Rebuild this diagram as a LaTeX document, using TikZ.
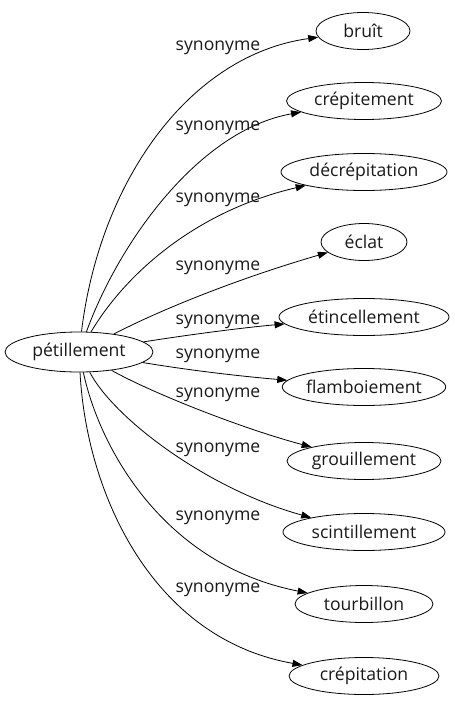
\documentclass[tikz,border=0pt]{standalone}
\usepackage{fontspec}
\setmainfont{Open Sans}
\usetikzlibrary{shapes.geometric,arrows.meta}
\begin{document}
\begin{tikzpicture}[x=1pt,y=-1pt,
  word/.style={draw,ellipse,inner sep=0pt,minimum height=37pt,line width=0.8pt,font=\fontsize{17.6}{20}\selectfont,text=black!90},
  lbl/.style={inner sep=0pt,font=\fontsize{17.6}{20}\selectfont,text=black!90},
  syn/.style={draw,line width=0.8pt,-{Triangle[length=10pt,width=7pt]}}]
\useasboundingbox (0,0) rectangle (455,707);
\node[word,minimum width=148pt,minimum height=40pt] (p) at (79,352) {pétillement};
\node[word,minimum width=94pt] (t1) at (363,31) {bruît};
\node[word,minimum width=155pt] (t2) at (364,101) {crépitement};
\node[word,minimum width=166pt] (t3) at (364,172) {décrépitation};
\node[word,minimum width=86pt] (t4) at (364,242) {éclat};
\node[word,minimum width=170pt] (t5) at (364,317) {étincellement};
\node[word,minimum width=160pt] (t6) at (364,387) {flamboiement};
\node[word,minimum width=154pt] (t7) at (364,461) {grouillement};
\node[word,minimum width=162pt] (t8) at (364,532) {scintillement};
\node[word,minimum width=138pt] (t9) at (364,604) {tourbillon};
\node[word,minimum width=150pt] (t10) at (364,676) {crépitation};
\draw[syn] (p) .. controls (100,180) and (190,55) .. (t1);
\draw[syn] (p) .. controls (120,240) and (200,130) .. (t2);
\draw[syn] (p) .. controls (128,270) and (200,210) .. (t3);
\draw[syn] (p) .. controls (170,305) and (250,275) .. (t4);
\draw[syn] (p) .. controls (200,333) and (250,327) .. (t5);
\draw[syn] (p) .. controls (200,372) and (250,377) .. (t6);
\draw[syn] (p) .. controls (150,392) and (240,428) .. (t7);
\draw[syn] (p) .. controls (115,420) and (210,490) .. (t8);
\draw[syn] (p) .. controls (100,450) and (165,565) .. (t9);
\draw[syn] (p) .. controls (86,490) and (150,638) .. (t10);
\node[lbl] (l1) at (218,48) {synonyme};
\node[lbl] (l2) at (218,128) {synonyme};
\node[lbl] (l3) at (218,200) {synonyme};
\node[lbl] (l4) at (218,268) {synonyme};
\node[lbl] (l5) at (218,322) {synonyme};
\node[lbl] (l6) at (218,356) {synonyme};
\node[lbl] (l7) at (218,395) {synonyme};
\node[lbl] (l8) at (218,450) {synonyme};
\node[lbl] (l9) at (218,518) {synonyme};
\node[lbl] (l10) at (218,590) {synonyme};
\end{tikzpicture}
\end{document}
